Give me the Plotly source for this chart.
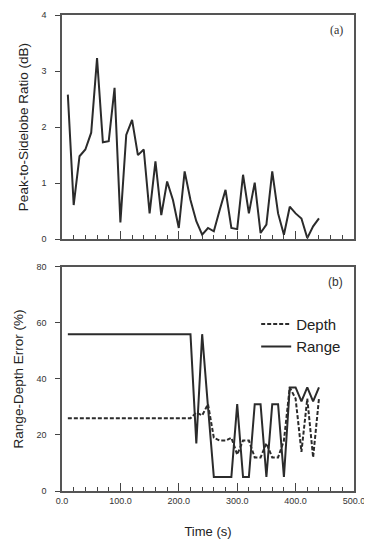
import plotly.graph_objects as go
from plotly.subplots import make_subplots

# Panel (a): time samples and peak-to-sidelobe ratio
time_s = [10, 20, 30, 40, 50, 60, 70, 80, 90, 100,
          110, 120, 130, 140, 150, 160, 170, 180, 190, 200,
          210, 220, 230, 240, 250, 260, 270, 280, 290, 300,
          310, 320, 330, 340, 350, 360, 370, 380, 390, 400,
          410, 420, 430, 440]
psr_db = [2.58, 0.61, 1.48, 1.60, 1.90, 3.23, 1.73, 1.75, 2.70, 0.30,
          1.86, 2.13, 1.50, 1.60, 0.46, 1.39, 0.43, 1.03, 0.70, 0.20,
          1.21, 0.70, 0.32, 0.08, 0.20, 0.14, 0.52, 0.88, 0.20, 0.18,
          1.15, 0.46, 1.01, 0.11, 0.26, 1.21, 0.46, 0.08, 0.58, 0.46,
          0.37, 0.02, 0.23, 0.37]

# Panel (b): range / depth error (%)
depth_err = [26, 26, 26, 26, 26, 26, 26, 26, 26, 26,
             26, 26, 26, 26, 26, 26, 26, 26, 26, 26,
             26, 26, 28, 27, 31, 19, 18, 18, 19, 13,
             18, 18, 12, 12, 17, 12, 12, 18, 37, 33,
             14, 33, 12, 33]
range_err = [56, 56, 56, 56, 56, 56, 56, 56, 56, 56,
             56, 56, 56, 56, 56, 56, 56, 56, 56, 56,
             56, 56, 17, 56, 30, 5, 5, 5, 5, 31,
             5, 5, 31, 31, 5, 31, 31, 5, 37, 37,
             32, 37, 32, 37]

x_ticks = [0, 100, 200, 300, 400, 500]
x_ticklabels = ["0.0", "100.0", "200.0", "300.0", "400.0", "500.0"]

LINE = "#2b2b2b"
FONT = "Liberation Sans, Arial, sans-serif"

fig = make_subplots(rows=2, cols=1, vertical_spacing=0.0588, shared_xaxes=False)

fig.add_trace(go.Scatter(x=time_s, y=psr_db, mode="lines",
                         line=dict(color=LINE, width=2), showlegend=False),
              row=1, col=1)
fig.add_trace(go.Scatter(x=time_s, y=depth_err, mode="lines", name="Depth",
                         line=dict(color=LINE, width=2, dash="4px,2px")),
              row=2, col=1)
fig.add_trace(go.Scatter(x=time_s, y=range_err, mode="lines", name="Range",
                         line=dict(color=LINE, width=2)),
              row=2, col=1)

axis_common = dict(showgrid=False, zeroline=False, showline=True, mirror=True,
                   linecolor="#555", linewidth=1.5, automargin=False,
                   tickfont=dict(family=FONT, size=9, color="#333"))

fig.update_xaxes(range=[0, 500], tickvals=x_ticks, ticks="inside", ticklen=8,
                 tickcolor="#444", minor=dict(dtick=20, ticks="inside", ticklen=4,
                                              tickcolor="#444"),
                 **axis_common)
fig.update_xaxes(showticklabels=False, row=1, col=1)
fig.update_xaxes(ticktext=x_ticklabels, row=2, col=1,
                 title=dict(text="Time (s)", font=dict(family=FONT, size=13, color="#222"),
                            standoff=22))

fig.update_yaxes(ticks="outside", ticklen=5, tickcolor="#444", ticklabelstandoff=7,
                 **axis_common)
fig.update_yaxes(range=[0, 4], tickvals=[0, 1, 2, 3, 4], row=1, col=1,
                 title=dict(text="Peak-to-Sidelobe Ratio (dB)",
                            font=dict(family=FONT, size=13.5, color="#222"), standoff=10))
fig.update_yaxes(range=[0, 80], tickvals=[0, 20, 40, 60, 80], row=2, col=1,
                 title=dict(text="Range-Depth Error (%)",
                            font=dict(family=FONT, size=13.5, color="#222"), standoff=10))

fig.add_annotation(text="(a)", xref="x domain", yref="y domain", x=0.97, y=0.975,
                   xanchor="right", yanchor="top", showarrow=False,
                   font=dict(family="Liberation Serif, serif", size=12, color="#333"))
fig.add_annotation(text="(b)", xref="x2 domain", yref="y2 domain", x=0.97, y=0.975,
                   xanchor="right", yanchor="top", showarrow=False,
                   font=dict(family=FONT, size=12, color="#333"))

# The page body adds an 8px margin, so the figure is sized to fit the window.
fig.update_layout(
    width=364, height=531,
    margin=dict(l=54, r=18, t=7, b=48),
    paper_bgcolor="white", plot_bgcolor="white",
    font=dict(family=FONT, color="#222"),
    legend=dict(x=0.665, y=0.385, xanchor="left", yanchor="top",
                bgcolor="rgba(0,0,0,0)", itemwidth=30, tracegroupgap=0,
                font=dict(family=FONT, size=15, color="#222")),
)
fig.update_yaxes(domain=[0.529, 1.0], row=1, col=1)
fig.update_yaxes(domain=[0.0, 0.4706], row=2, col=1)

fig.write_html("out.html")
